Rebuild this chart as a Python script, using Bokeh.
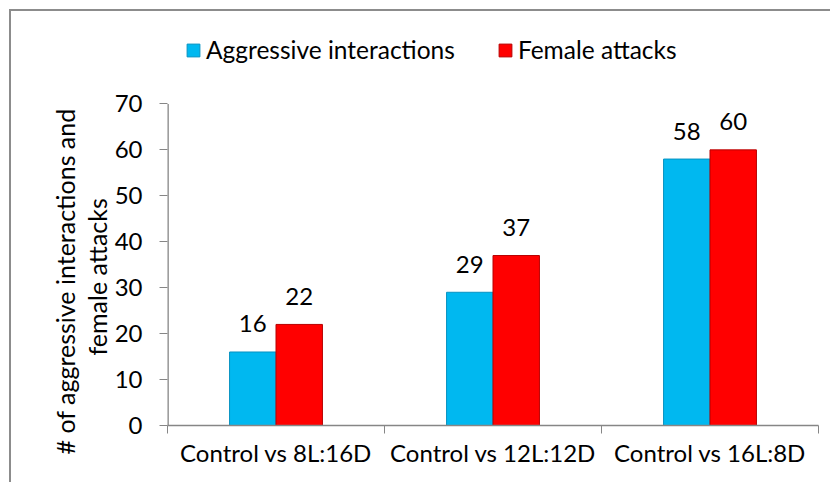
from bokeh.plotting import figure
from bokeh.models import ColumnDataSource, FixedTicker, Legend, LegendItem, Range1d, Title
from bokeh.transform import dodge
from bokeh.core.properties import value
from bokeh.embed import file_html
from bokeh.resources import INLINE

# ---- data ----
categories = ["Control vs 8L:16D", "Control vs 12L:12D", "Control vs 16L:8D"]
aggressive = [16, 29, 58]
female = [22, 37, 60]
y_ticks = [0, 10, 20, 30, 40, 50, 60, 70]
series_names = ["Aggressive interactions", "Female attacks"]
y_title_lines = ["# of aggressive interactions and", "female attacks"]

FONT = "Lato"
FS = "24px"
BLUE = "#00B8F0"
RED = "#FF0000"
GRAY = "#868686"

# layout: plot area spans from legend top (page y~17) to axis (page y 423);
# value 70 must sit at page y 103
FRAME_TOP, AXIS_TOP, AXIS_BOTTOM = 17, 103, 423
y_end = y_ticks[-1] * (AXIS_BOTTOM - FRAME_TOP) / (AXIS_BOTTOM - AXIS_TOP)

centers = [i + 0.5 for i in range(len(categories))]
bounds = [float(i) for i in range(len(categories) + 1)]

src = ColumnDataSource(dict(
    x=centers,
    agg=aggressive,
    fem=female,
    agg_s=[str(v) for v in aggressive],
    fem_s=[str(v) for v in female],
))

p = figure(width=821, height=473,
           x_range=Range1d(0, len(categories)), y_range=Range1d(0, y_end),
           output_backend="svg", toolbar_location=None,
           min_border_left=156, min_border_right=14,
           min_border_top=FRAME_TOP - 11, min_border_bottom=59)
p.margin = (9, 0, 0, 9)
p.styles = {"border-top": "2px solid #8c8c8c", "border-left": "2px solid #8c8c8c"}
p.grid.visible = False
p.outline_line_color = None
p.background_fill_color = "white"
p.border_fill_color = "white"

bw = 0.214
off = bw / 2
r1 = p.vbar(x=dodge("x", -off, range=p.x_range), top="agg", width=bw, bottom=0,
            source=src, fill_color=BLUE, line_color="#0792c2", line_width=1)
r2 = p.vbar(x=dodge("x", off, range=p.x_range), top="fem", width=bw, bottom=0,
            source=src, fill_color=RED, line_color="#b80000", line_width=1)

for col, sc, dx in (("agg", "agg_s", -off), ("fem", "fem_s", off)):
    p.text(x=dodge("x", dx, range=p.x_range), y=col, text=sc, source=src,
           text_align="center", text_baseline="middle", y_offset=-28,
           text_font=value(FONT), text_font_size=FS, text_color="black")

# y axis line only up to the last tick
p.segment(x0=[0], y0=[y_ticks[0]], x1=[0], y1=[y_ticks[-1]],
          line_color=GRAY, line_width=2.6)

# x axis
xa = p.xaxis[0]
xa.ticker = FixedTicker(ticks=centers, minor_ticks=bounds)
xa.major_label_overrides = {c: lab for c, lab in zip(centers, categories)}
xa.major_tick_out = 0
xa.major_tick_in = 0
xa.minor_tick_out = 8
xa.minor_tick_in = 0
xa.minor_tick_line_color = GRAY
xa.axis_line_color = GRAY
xa.axis_line_width = 1.3
xa.major_label_standoff = 4
xa.major_label_text_font = FONT
xa.major_label_text_font_size = FS
xa.major_label_text_color = "black"

# y axis
ya = p.yaxis[0]
ya.ticker = FixedTicker(ticks=y_ticks)
ya.minor_tick_line_color = None
ya.major_tick_out = 8
ya.major_tick_in = 0
ya.major_tick_line_color = GRAY
ya.axis_line_color = None
ya.major_label_standoff = 17
ya.major_label_text_font = FONT
ya.major_label_text_font_size = FS
ya.major_label_text_color = "black"

# y axis title: two lines, each its own title (inner line first)
for line, shift in ((y_title_lines[1], 70), (y_title_lines[0], -29)):
    t = Title(text=line, align="left", offset=shift, standoff=0,
              text_font=FONT, text_font_size="25px", text_font_style="normal",
              text_color="black")
    p.add_layout(t, "left")

legend = Legend(items=[LegendItem(label=series_names[0], renderers=[r1]),
                       LegendItem(label=series_names[1], renderers=[r2])],
                location="top_left", orientation="horizontal",
                background_fill_alpha=0, border_line_alpha=0,
                padding=0, margin=18, spacing=42, label_standoff=5,
                glyph_width=16, glyph_height=16,
                label_text_font=FONT, label_text_font_size="24.5px",
                label_text_color="black")
p.add_layout(legend, "center")

open("out.html", "w").write(file_html(p, INLINE))
